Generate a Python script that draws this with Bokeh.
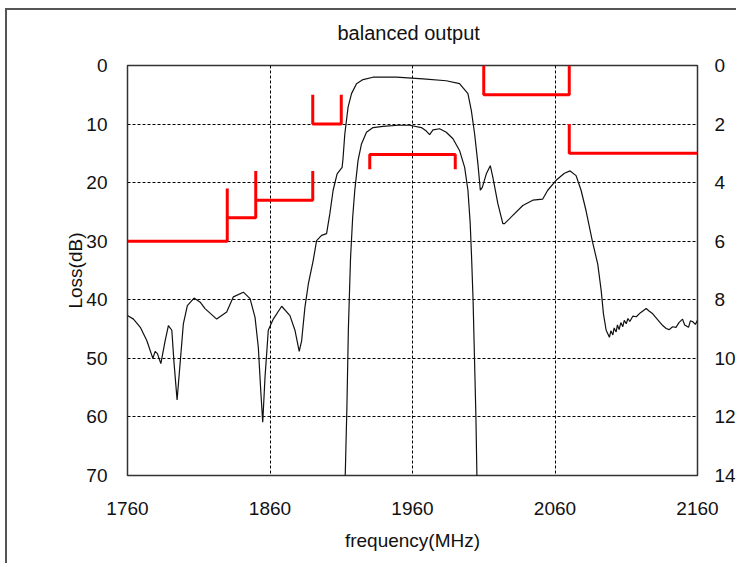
from bokeh.plotting import figure
from bokeh.models import Range1d, LinearAxis, FixedTicker, Title
from bokeh.embed import file_html
from bokeh.resources import INLINE

# ---- data ----
title_text = "balanced output"
x_label = "frequency(MHz)"
y_label = "Loss(dB)"
x_ticks = [1760, 1860, 1960, 2060, 2160]
y_ticks = [0, 10, 20, 30, 40, 50, 60, 70]
y2_ticks = [0, 2, 4, 6, 8, 10, 12, 14]

# wide curve (rejection), loss in dB
freq_a = [1760, 1764.2, 1769, 1773.6, 1777.8, 1779.4, 1781, 1783.4, 1786.4, 1788.7,
          1791.1, 1792.7, 1794.8, 1796.9, 1799.2, 1802, 1806.7, 1811, 1814.4, 1822.6,
          1829.6, 1834.3, 1841.3, 1846, 1849.5, 1851.8, 1853.5, 1854.9, 1856.5, 1858.8,
          1862.3, 1868.2, 1874, 1877.5, 1880.5, 1882.2, 1884.5, 1886.9, 1890.3, 1892.7,
          1896.2, 1899.7, 1902, 1904.3, 1907.1, 1910.6, 1911.2, 1912.5, 1914.8, 1917.2,
          1920.7, 1925.3, 1932.3, 1948.7, 1967.4, 1983.7, 1993, 1998.9, 2001.3, 2003.6,
          2005.9, 2007.6, 2009, 2011.8, 2014.6, 2016.4, 2019.9, 2023.4, 2024.6, 2030.4,
          2037.4, 2044.4, 2051.4, 2054.9, 2060.8, 2066.6, 2070.6, 2074.8, 2078.3, 2081.8,
          2086.4, 2090, 2092.4, 2094, 2095.9, 2098.2, 2099.2, 2100.6, 2101.5, 2102.9,
          2103.8, 2105, 2106.2, 2107.6, 2108.6, 2110, 2111.2, 2112.5, 2114.6, 2117,
          2120, 2124, 2126, 2128.6, 2132, 2135.6, 2138, 2140.2, 2142.5, 2144.9,
          2147, 2149.5, 2151, 2153.7, 2155, 2156.5, 2158.5, 2160]
loss_a = [42.7, 43.3, 44.7, 47.0, 50.0, 48.8, 49.2, 50.9, 47.0, 44.4,
          45.2, 50.9, 57.1, 50.9, 44.1, 41.0, 39.7, 40.4, 41.5, 43.3,
          42.1, 39.5, 38.7, 39.8, 43.0, 48.1, 55.5, 60.9, 53.2, 45.2,
          43.3, 41.1, 42.7, 45.2, 48.8, 47.0, 41.3, 37.3, 33.3, 29.9,
          29.0, 28.7, 25.3, 21.3, 18.5, 17.4, 16.0, 11.7, 7.1, 4.8,
          3.1, 2.4, 2.0, 2.0, 2.3, 2.6, 3.1, 4.8, 7.7, 11.7,
          16.8, 21.3, 20.8, 18.5, 17.1, 19.1, 23.6, 27.0, 27.0, 25.6,
          23.9, 23.0, 22.8, 21.3, 19.6, 18.4, 18.0, 18.8, 21.3, 24.8,
          30.2, 33.9, 38.4, 42.4, 45.2, 46.4, 45.3, 46.0, 44.8, 45.5,
          44.3, 45.1, 43.9, 44.6, 43.5, 44.1, 43.2, 43.7, 42.8, 42.9,
          42.2, 41.5, 41.9, 42.4, 43.4, 44.4, 44.9, 45.1, 44.6, 44.7,
          43.9, 43.3, 44.3, 44.7, 43.6, 43.7, 44.2, 43.5]

# narrow curve (passband), loss in dB
freq_b = [1912.6, 1912.8, 1914, 1915, 1916.5, 1918, 1919.5, 1921.8, 1924.2, 1927.7,
          1932.3, 1939.3, 1950, 1958, 1966.2, 1969.7, 1972, 1974.4, 1979, 1983.7,
          1988.4, 1993, 1996.6, 1998.9, 2000.5, 2001.5, 2002.5, 2003.5, 2004.5, 2005.2,
          2005.4]
loss_b = [72, 70, 58, 45, 33, 26, 21.3, 16.2, 13.4, 11.4,
          10.6, 10.4, 10.2, 10.2, 10.6, 11.2, 11.8, 11.0, 10.8, 11.4,
          12.5, 14.5, 17.4, 21.3, 27, 33, 40, 50, 60, 70,
          72]

# specification masks (dB)
mask_xs = [[1760, 1830, 1830], [1830, 1850, 1850], [1850, 1890, 1890],
           [1890, 1890, 1910, 1910], [1930, 1930, 1990, 1990],
           [2010, 2010, 2070, 2070], [2070, 2070, 2160]]
mask_ys = [[30, 30, 21], [26, 26, 18], [23, 23, 18],
           [5, 10, 10, 5], [17.7, 15.2, 15.2, 17.7],
           [0, 5, 5, 0], [10, 15, 15]]

FONT = "Liberation Sans"
TXT = "#111111"

p = figure(width=731, height=555, output_backend="svg", toolbar_location=None,
           x_range=Range1d(1760, 2160), y_range=Range1d(70, 0),
           min_border_left=120, min_border_right=40, min_border_top=55,
           min_border_bottom=90)
p.styles = {"border-left": "2px solid #555555", "border-top": "2px solid #555555",
            "margin-left": "5px", "margin-top": "8px"}

# spacer between the frame and the title
p.add_layout(Title(text=" ", text_font_size="2px", standoff=18), "above")

p.title.text = title_text
p.title.align = "left"
p.title.offset = 210
p.title.standoff = 0
p.title.text_font = FONT
p.title.text_font_size = "20px"
p.title.text_font_style = "normal"
p.title.text_color = TXT

p.extra_y_ranges = {"right": Range1d(14, 0)}
p.add_layout(LinearAxis(y_range_name="right"), "right")

for ax in [p.xaxis[0], p.yaxis[0], p.yaxis[1]]:
    ax.axis_line_color = None
    ax.major_tick_line_color = None
    ax.minor_tick_line_color = None
    ax.major_tick_out = 0
    ax.major_tick_in = 0
    ax.minor_tick_out = 0
    ax.minor_tick_in = 0
    ax.major_label_text_font = FONT
    ax.major_label_text_font_size = "19px"
    ax.major_label_text_color = TXT
    ax.axis_label_text_font = FONT
    ax.axis_label_text_font_size = "19px"
    ax.axis_label_text_font_style = "normal"
    ax.axis_label_text_color = TXT

p.xaxis[0].ticker = FixedTicker(ticks=x_ticks)
p.yaxis[0].ticker = FixedTicker(ticks=y_ticks)
p.yaxis[1].ticker = FixedTicker(ticks=y2_ticks)
p.xaxis[0].axis_label = x_label
p.yaxis[0].axis_label = y_label
p.xaxis[0].major_label_standoff = 26
p.xaxis[0].axis_label_standoff = 12
p.yaxis[0].major_label_standoff = 20
p.yaxis[0].axis_label_standoff = -3
p.yaxis[1].major_label_standoff = 17

p.xgrid.ticker = FixedTicker(ticks=x_ticks)
p.ygrid.ticker = FixedTicker(ticks=y_ticks)
for g in [p.xgrid[0], p.ygrid[0]]:
    g.grid_line_color = "#000000"
    g.grid_line_dash = "3 2"
    g.grid_line_width = 1

p.outline_line_color = "#333333"
p.outline_line_width = 1.5
p.background_fill_color = "white"
p.border_fill_color = "white"

p.line(freq_a, loss_a, line_color="#111111", line_width=1.2)
p.line(freq_b, loss_b, line_color="#111111", line_width=1.2)
p.multi_line(mask_xs, mask_ys, line_color="#ff0000", line_width=3)

open("out.html", "w").write(file_html(p, INLINE))
